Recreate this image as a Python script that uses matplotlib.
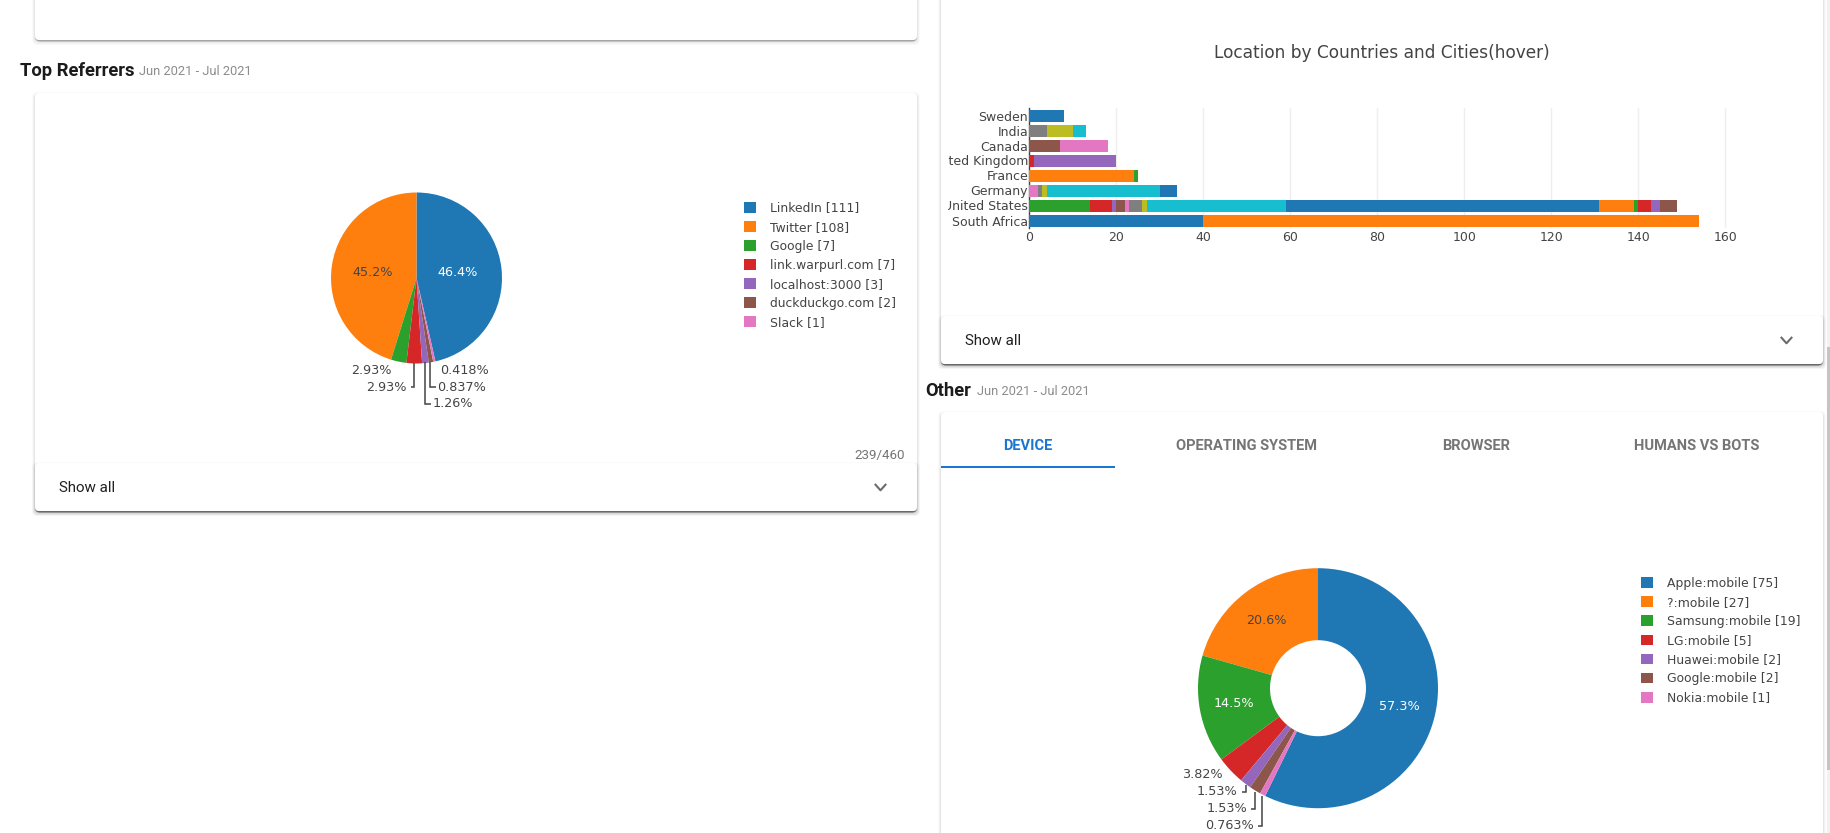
#!/usr/bin/env python
"""Dashboard screenshot: top referrers pie, location stacked bars, device donut."""
import matplotlib
matplotlib.use("Agg")
import matplotlib.pyplot as plt
from matplotlib.patches import FancyBboxPatch, Rectangle
from matplotlib.transforms import Bbox

# ---- data ----
referrer_names = ["LinkedIn", "Twitter", "Google", "link.warpurl.com",
                  "localhost:3000", "duckduckgo.com", "Slack"]
referrer_counts = [111, 108, 7, 7, 3, 2, 1]
referrer_pcts = ["46.4%", "45.2%", "2.93%", "2.93%", "1.26%", "0.837%", "0.418%"]

device_names = ["Apple:mobile", "?:mobile", "Samsung:mobile", "LG:mobile",
                "Huawei:mobile", "Google:mobile", "Nokia:mobile"]
device_counts = [75, 27, 19, 5, 2, 2, 1]
device_pcts = ["57.3%", "20.6%", "14.5%", "3.82%", "1.53%", "1.53%", "0.763%"]

# bottom row first, one value per city
countries = ["South Africa", "United States", "Germany", "France",
             "United Kingdom", "Canada", "India", "Sweden"]
south_africa = [40, 114]
united_states = [14, 5, 1, 2, 1, 3, 1, 32, 72, 8, 1, 3, 2, 4]
germany = [2, 1, 1, 26, 4]
france = [24, 1]
united_kingdom = [1, 19]
canada = [7, 11]
india = [4, 6, 3]
sweden = [8]
city_counts = [south_africa, united_states, germany, france,
               united_kingdom, canada, india, sweden]
x_ticks = [0, 20, 40, 60, 80, 100, 120, 140, 160]

tab_names = ["DEVICE", "OPERATING SYSTEM", "BROWSER", "HUMANS VS BOTS"]

# ---- style ----
TAB10 = ["#1f77b4", "#ff7f0e", "#2ca02c", "#d62728", "#9467bd",
         "#8c564b", "#e377c2", "#7f7f7f", "#bcbd22", "#17becf"]
PLOT_INK = "#444444"
W, H = 1830, 833

plt.rcParams["font.family"] = ["DejaVu Sans"]
fig = plt.figure(figsize=(W / 100, H / 100), dpi=100, facecolor="white")


def pixel_layer(z):
    # full-figure layer in screen pixels, y down
    layer = fig.add_axes([0, 0, 1, 1], zorder=z)
    layer.set_xlim(0, W)
    layer.set_ylim(H, 0)
    layer.axis("off")
    return layer


page = pixel_layer(0)
over = pixel_layer(5)  # slice labels sit on top of the pies


def px_axes(x0, y0, x1, y1):
    return fig.add_axes([x0 / W, 1 - y1 / H, (x1 - x0) / W, (y1 - y0) / H], zorder=2)


def card(x0, y0, x1, y1, z=1):
    for grow, dy, alpha in [(3, 2, 0.02), (2, 2, 0.03), (1, 1.5, 0.05), (0, 1.5, 0.28)]:
        page.add_patch(FancyBboxPatch((x0 - grow, y0 - grow + dy), x1 - x0 + 2 * grow,
                                      y1 - y0 + 2 * grow,
                                      boxstyle="round,pad=0,rounding_size=5",
                                      fc="black", ec="none", alpha=alpha, zorder=z))
    page.add_patch(FancyBboxPatch((x0, y0), x1 - x0, y1 - y0,
                                  boxstyle="round,pad=0,rounding_size=4",
                                  fc="white", ec="none", zorder=z + 0.5))


def ui_text(x, y, s, size, color="#212121", weight="normal", ha="left"):
    page.text(x, y, s, fontsize=size, color=color, fontweight=weight, ha=ha,
              va="center", family="Roboto", zorder=6)


def chevron(x, y):
    page.plot([x - 5, x, x + 5], [y - 2.8, y + 2.8, y - 2.8], color="#6b6b6b", lw=1.5, zorder=6)


def show_all(x0, y0, x1, y1):
    card(x0, y0, x1, y1, z=3)
    ui_text(x0 + 24, (y0 + y1) / 2 + 1, "Show all", 10.9)
    chevron(x1 - 36.5, (y0 + y1) / 2 + 0.5)


def leader(xs, ys):
    over.plot(xs, ys, color=PLOT_INK, lw=1.1, solid_capstyle="butt",
              solid_joinstyle="miter", zorder=7)


def pie_panel(cx, cy, r, counts, names, hole, legend_xy):
    ax = px_axes(cx - r, cy - r, cx + r, cy + r)
    # first slice ends at 12 o'clock, the rest run on counter-clockwise from there
    start = 90 - 360 * counts[0] / sum(counts)
    wedges, _ = ax.pie(counts, colors=TAB10, startangle=start, counterclock=True, radius=1,
                       wedgeprops=dict(linewidth=0, width=1 - hole if hole else None))
    ax.set_xlim(-1, 1)
    ax.set_ylim(-1, 1)
    labels = [f"{n} [{c}]" for n, c in zip(names, counts)]
    fig.legend(wedges, labels, loc="upper left", frameon=False, fontsize=8.9,
               bbox_to_anchor=(legend_xy[0] / W, 1 - legend_xy[1] / H),
               borderpad=0, borderaxespad=0, handlelength=0.97, handleheight=0.97,
               handletextpad=1.13, labelspacing=0.49, labelcolor=PLOT_INK)


def pct(x, y, s, color=PLOT_INK):
    over.text(x, y, s, fontsize=9.15, color=color, ha="center", va="center", zorder=7)


# ---- cards ----
card(35, -20, 917, 40)
card(35, 93, 917, 511)
show_all(35, 463, 917, 511)
card(941, -20, 1823, 364)
show_all(941, 316, 1823, 364)
card(941, 412, 1823, 860)

ui_text(20, 70.5, "Top Referrers", 13.2, "#1b1b1b", "bold")
ui_text(139, 71.5, "Jun 2021 - Jul 2021", 9.3, "#8c8c8c")
ui_text(925.5, 390.5, "Other", 13.2, "#1b1b1b", "bold")
ui_text(977, 391, "Jun 2021 - Jul 2021", 9.3, "#8c8c8c")
ui_text(904.5, 455, "239/460", 9.6, "#757575", ha="right")

# tabs
for name, x in zip(tab_names, [1027.6, 1247, 1476.5, 1697]):
    ui_text(x, 446, name, 10.5, "#1976d2" if name == "DEVICE" else "#757575", 600, "center")
page.add_patch(Rectangle((941, 466), 174, 2.2, fc="#1976d2", ec="none", zorder=6))

# scrollbar
page.add_patch(Rectangle((1826.7, 0), 3.3, H, fc="#f1f1f1", ec="none", zorder=8))
page.add_patch(Rectangle((1826.7, 347), 3.3, 423, fc="#c4c4c4", ec="none", zorder=9))

# ---- referrers pie ----
pie_panel(416.5, 278, 85.5, referrer_counts, referrer_names, 0, (744, 201.5))
for (x, y), s, c in zip([(458, 273), (373, 272), (371.7, 370), (386.7, 387),
                         (452.7, 403.5), (461.7, 387), (464.3, 370)],
                        referrer_pcts, ["white"] + [PLOT_INK] * 6):
    pct(x, y, s, c)
leader([414, 414, 410.7], [363, 386.5, 386.5])
leader([425, 425, 430.7], [362, 403.5, 403.5])
leader([430.3, 430.3, 435.7], [362, 386.5, 386.5])

# ---- device donut ----
pie_panel(1318, 688.2, 120, device_counts, device_names, 0.4, (1640.7, 577))
for (x, y), s, c in zip([(1399.6, 706.7), (1266.4, 621), (1234, 703.7), (1202.7, 774.5),
                         (1217.3, 791.7), (1227.3, 809), (1230, 825.3)],
                        device_pcts, ["white", PLOT_INK, "white"] + [PLOT_INK] * 4):
    pct(x, y, s, c)
leader([1245.7, 1245.7, 1241.7], [785, 792.3, 792.3])
leader([1255, 1255, 1251], [791.7, 809, 809])
leader([1261.7, 1261.7, 1257.7], [795.7, 825.7, 825.7])

# ---- location bars ----
ax = px_axes(1029.3, 108, 1746, 228)
color_i = 0  # the colour cycle runs on through every city trace
for row, cities in enumerate(city_counts):
    left = 0
    for v in cities:
        ax.barh(row, v, left=left, height=0.8, color=TAB10[color_i % 10], lw=0, zorder=3)
        left += v
        color_i += 1
ax.set_xlim(0, (1746 - 1029.3) / 4.35)
ax.set_ylim(-0.5, len(countries) - 0.5)
ax.set_yticks(range(len(countries)), countries)
ax.set_xticks(x_ticks)
ax.grid(axis="x", color="#eeeeee", lw=1)
ax.set_axisbelow(True)
ax.spines[["top", "right", "bottom"]].set_visible(False)
ax.spines["left"].set_color(PLOT_INK)
ax.spines["left"].set_linewidth(1)
ax.tick_params(length=0, labelsize=9, colors=PLOT_INK)
ax.tick_params(axis="y", pad=0.8)
ax.tick_params(axis="x", pad=2.5)
ax.patch.set_alpha(0)
fig.canvas.draw()
# long country names are cut off by the chart's left margin
for lab in ax.get_yticklabels():
    lab.set_clip_box(Bbox([[948, 0], [1100, H]]))
    lab.set_clip_on(True)

page.text(1382, 53, "Location by Countries and Cities(hover)", fontsize=12.25, color=PLOT_INK,
          ha="center", va="center", zorder=6)

fig.savefig("out.png", dpi=100)
